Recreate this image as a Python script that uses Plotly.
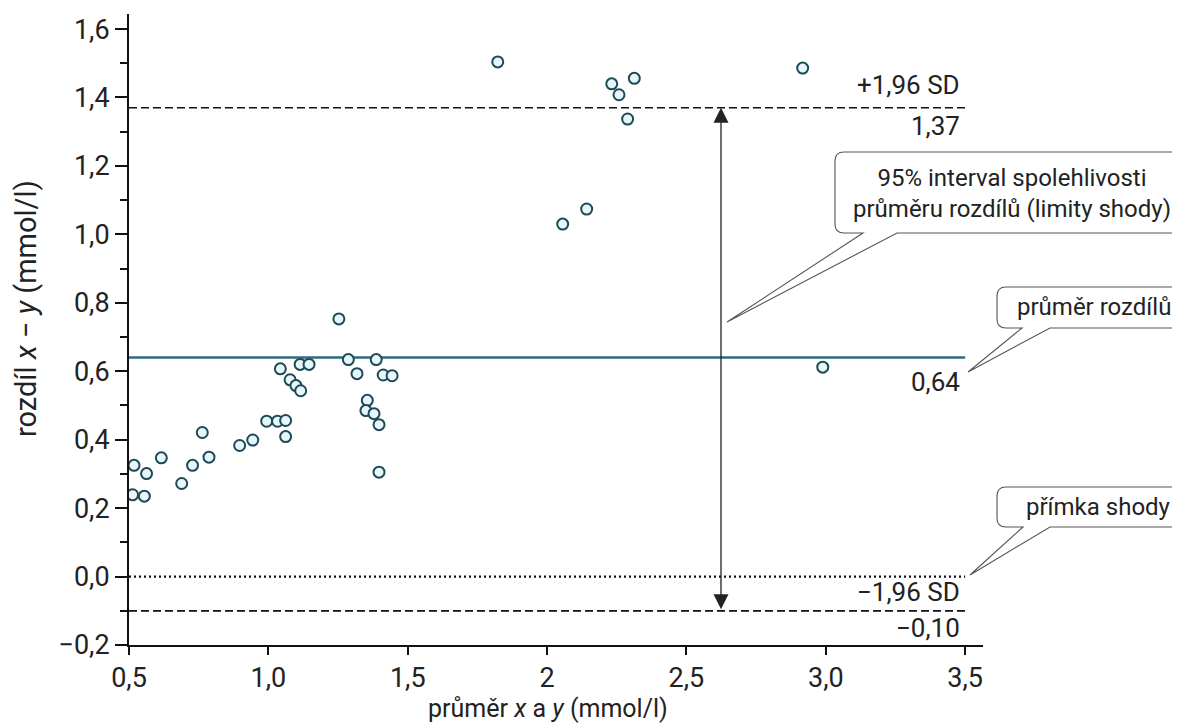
import plotly.graph_objects as go

# ---- data ----
prumer_xy = [0.518, 0.513, 0.555, 0.563, 0.616, 0.689, 0.728, 0.763, 0.787, 0.897,
             0.944, 0.994, 1.033, 1.062, 1.062, 1.043, 1.078, 1.099, 1.116, 1.114,
             1.146, 1.253, 1.287, 1.318, 1.355, 1.350, 1.379, 1.397, 1.387, 1.412,
             1.444, 1.397, 1.823, 2.232, 2.258, 2.313, 2.289, 2.917, 2.142, 2.056,
             2.989]
rozdil_xy = [0.325, 0.239, 0.235, 0.301, 0.347, 0.272, 0.325, 0.421, 0.349, 0.383,
             0.399, 0.454, 0.454, 0.456, 0.409, 0.607, 0.575, 0.558, 0.543, 0.620,
             0.620, 0.753, 0.634, 0.593, 0.515, 0.485, 0.476, 0.444, 0.634, 0.589,
             0.587, 0.305, 1.504, 1.440, 1.408, 1.456, 1.337, 1.486, 1.074, 1.030,
             0.612]

mean_diff = 0.64
upper_loa = 1.37
lower_loa = -0.10
line_x = [0.5, 3.5]
arrow_x = 2.624

x_ticks = [0.5, 1.0, 1.5, 2.0, 2.5, 3.0, 3.5]
x_ticktext = ["0,5", "1,0", "1,5", "2", "2,5", "3,0", "3,5"]
y_ticks = [-0.2, 0.0, 0.2, 0.4, 0.6, 0.8, 1.0, 1.2, 1.4, 1.6]

FONT = "Roboto, sans-serif"
OFF = 8  # page body margin of the rendered html
W, H = 1180 - OFF, 727 - OFF
L, R_PX, T, B_PX = 129 - OFF, 983 - OFF, 14 - OFF, 645 - OFF


def px2paper(px, py):
    px -= OFF
    py -= OFF
    return (px - L) / (R_PX - L), (B_PX - py) / (B_PX - T)


def callout_path(left, top, right, bottom, wl, wr, tipx, tipy, r=9):
    pts = [
        ("M", left + r, top), ("L", right, top), ("L", right, bottom),
        ("L", wr, bottom), ("L", tipx, tipy), ("L", wl, bottom),
        ("L", left + r, bottom), ("Q", left, bottom, left, bottom - r),
        ("L", left, top + r), ("Q", left, top, left + r, top),
    ]
    s = ""
    for p in pts:
        cmd = p[0]
        coords = p[1:]
        parts = []
        for i in range(0, len(coords), 2):
            a, b = px2paper(coords[i], coords[i + 1])
            parts.append(f"{a:.5f},{b:.5f}")
        s += cmd + " " + " ".join(parts) + " "
    return s + "Z"


fig = go.Figure()

# reference lines
fig.add_trace(go.Scatter(x=line_x, y=[upper_loa, upper_loa], mode="lines",
                         line=dict(color="#111", width=1.6, dash="8px,4px"),
                         hoverinfo="skip", showlegend=False))
fig.add_trace(go.Scatter(x=line_x, y=[lower_loa, lower_loa], mode="lines",
                         line=dict(color="#111", width=1.8, dash="8px,4px"),
                         hoverinfo="skip", showlegend=False))
fig.add_trace(go.Scatter(x=line_x, y=[0, 0], mode="lines",
                         line=dict(color="#111", width=2.2, dash="2px,3px"),
                         hoverinfo="skip", showlegend=False))
fig.add_trace(go.Scatter(x=line_x, y=[mean_diff, mean_diff], mode="lines",
                         line=dict(color="#2d6b7e", width=2.6),
                         hoverinfo="skip", showlegend=False))

# points
fig.add_trace(go.Scatter(x=prumer_xy, y=rozdil_xy, mode="markers",
                         marker=dict(symbol="circle", size=11, color="#e6f6fa",
                                     line=dict(color="#1d4a56", width=2)),
                         showlegend=False))

ann = []
# double arrow
ann.append(dict(x=arrow_x, y=upper_loa, ax=arrow_x, ay=lower_loa, xref="x", yref="y",
                axref="x", ayref="y", showarrow=True, arrowhead=2, arrowside="end+start",
                arrowsize=2.3, arrowwidth=1.3, arrowcolor="#222", text=""))

lab_font = dict(family=FONT, size=26, color="#222")
lab_x = 3.49
ann.append(dict(x=lab_x, y=upper_loa, xref="x", yref="y", text="+1,96 SD", showarrow=False,
                xanchor="right", yanchor="bottom", yshift=6, font=lab_font))
ann.append(dict(x=lab_x, y=upper_loa, xref="x", yref="y", text="1,37", showarrow=False,
                xanchor="right", yanchor="top", yshift=-1, font=lab_font))
ann.append(dict(x=lab_x, y=mean_diff, xref="x", yref="y", text="0,64", showarrow=False,
                xanchor="right", yanchor="top", yshift=-7, font=lab_font))
ann.append(dict(x=lab_x, y=0, xref="x", yref="y", text="\u22121,96 SD", showarrow=False,
                xanchor="right", yanchor="top", yshift=2, font=lab_font))
ann.append(dict(x=lab_x, y=lower_loa, xref="x", yref="y", text="\u22120,10", showarrow=False,
                xanchor="right", yanchor="top", yshift=0, font=lab_font))

# callout texts
box_font = dict(family=FONT, size=24, color="#222")
cx, cy = px2paper(1012, 193)
ann.append(dict(x=cx, y=cy, xref="paper", yref="paper",
                text="95% interval spolehlivosti<br>průměru rozdílů (limity shody)",
                showarrow=False, xanchor="center", yanchor="middle", align="center",
                font=box_font))
cx, cy = px2paper(1094, 307)
ann.append(dict(x=cx, y=cy, xref="paper", yref="paper", text="průměr rozdílů",
                showarrow=False, xanchor="center", yanchor="middle", font=box_font))
cx, cy = px2paper(1098, 507)
ann.append(dict(x=cx, y=cy, xref="paper", yref="paper", text="přímka shody",
                showarrow=False, xanchor="center", yanchor="middle", font=box_font))

# axis titles
tx, ty = px2paper(26, 309)
ann.append(dict(x=tx, y=ty, xref="paper", yref="paper", textangle=-90,
                text="rozdíl <i>x</i> \u2212 <i>y</i> (mmol/l)", showarrow=False,
                xanchor="center", yanchor="middle", font=dict(family=FONT, size=29, color="#222")))
tx, ty = px2paper(548, 708)
ann.append(dict(x=tx, y=ty, xref="paper", yref="paper",
                text="průměr <i>x</i> a <i>y</i> (mmol/l)", showarrow=False,
                xanchor="center", yanchor="middle", font=dict(family=FONT, size=25, color="#222")))

shapes = []
for args in [(835, 152, 1195, 233, 863, 897, 727, 322),
             (997, 287, 1195, 328, 1022, 1050, 968, 372),
             (997, 487, 1195, 527, 1023, 1050, 970, 575)]:
    shapes.append(dict(type="path", path=callout_path(*args), xref="paper", yref="paper",
                       line=dict(color="#555", width=1.1), fillcolor="rgba(255,255,255,0)"))

fig.update_layout(
    width=W, height=H,
    margin=dict(l=L, r=W - R_PX, t=T, b=H - B_PX, autoexpand=False),
    paper_bgcolor="white", plot_bgcolor="white",
    separators=",.",
    font=dict(family=FONT, size=26, color="#222"),
    annotations=ann, shapes=shapes,
    xaxis=dict(range=[0.5, 3.564], tickvals=x_ticks, ticktext=x_ticktext,
               ticks="outside", ticklen=8, tickwidth=2, tickcolor="#111", automargin=False,
               showline=True, linecolor="#111", linewidth=2, showgrid=False, zeroline=False,
               tickfont=dict(family=FONT, size=27, color="#222")),
    yaxis=dict(range=[-0.2, 1.644], tickvals=y_ticks, tickformat=".1f", automargin=False,
               ticks="outside", ticklen=12, tickwidth=2, tickcolor="#111",
               minor=dict(dtick=0.1, tick0=0, ticks="outside", ticklen=7, tickwidth=2,
                          tickcolor="#111", showgrid=False),
               showline=True, linecolor="#111", linewidth=2, showgrid=False, zeroline=False,
               tickfont=dict(family=FONT, size=27, color="#222")),
)

fig.write_html("out.html")
